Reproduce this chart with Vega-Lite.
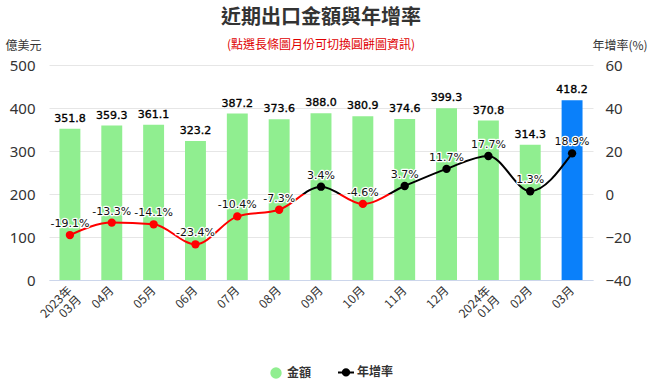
{
  "$schema": "https://vega.github.io/schema/vega-lite/v6.json",
  "autosize": "none",
  "width": 544,
  "height": 215,
  "padding": {"left": 49, "top": 65, "right": 59, "bottom": 105},
  "background": "white",
  "title": {
    "text": "近期出口金額與年增率",
    "subtitle": "(點選長條圖月份可切換圓餅圖資訊)",
    "font": "Noto Sans CJK TC",
    "fontSize": 20,
    "fontWeight": "bold",
    "color": "#333333",
    "subtitleFont": "Noto Sans CJK TC",
    "subtitleFontSize": 12,
    "subtitleColor": "#e00000",
    "subtitlePadding": 12,
    "anchor": "middle",
    "offset": -12
  },
  "data": {
    "values": [
      {"label": "2023年 03月", "amount": 351.8, "yoy": -19.1},
      {"label": "04月", "amount": 359.3, "yoy": -13.3},
      {"label": "05月", "amount": 361.1, "yoy": -14.1},
      {"label": "06月", "amount": 323.2, "yoy": -23.4},
      {"label": "07月", "amount": 387.2, "yoy": -10.4},
      {"label": "08月", "amount": 373.6, "yoy": -7.3},
      {"label": "09月", "amount": 388.0, "yoy": 3.4},
      {"label": "10月", "amount": 380.9, "yoy": -4.6},
      {"label": "11月", "amount": 374.6, "yoy": 3.7},
      {"label": "12月", "amount": 399.3, "yoy": 11.7},
      {"label": "2024年 01月", "amount": 370.8, "yoy": 17.7},
      {"label": "02月", "amount": 314.3, "yoy": 1.3},
      {"label": "03月", "amount": 418.2, "yoy": 18.9}
    ]
  },
  "transform": [{"calculate": "datum.yoy + '%'", "as": "yoyLabel"}],
  "encoding": {
    "x": {
      "field": "label",
      "type": "nominal",
      "sort": null,
      "scale": {"paddingInner": 0.5, "paddingOuter": 0.25},
      "axis": {
        "title": null,
        "labelAngle": -45,
        "labelAlign": "right",
        "labelBaseline": "middle",
        "labelFont": "Noto Sans CJK TC",
        "labelFontSize": 12,
        "labelColor": "#333333",
        "labelPadding": 8,
        "labelLineHeight": 13,
        "labelExpr": "split(datum.label, ' ')",
        "ticks": false,
        "grid": false,
        "domainColor": "#ccd6eb",
        "domainWidth": 1
      }
    }
  },
  "layer": [
    {
      "encoding": {
        "y": {
          "field": "amount",
          "type": "quantitative",
          "scale": {"domain": [0, 500], "nice": false},
          "axis": {
            "orient": "left",
            "values": [0, 100, 200, 300, 400, 500],
            "domain": false,
            "ticks": false,
            "grid": true,
            "gridColor": "#e6e6e6",
            "labelFont": "Noto Sans",
            "labelFontSize": 15,
            "labelColor": "#333333",
            "labelPadding": 14,
            "title": "億美元",
            "titleAngle": 0,
            "titleX": -44,
            "titleY": -20,
            "titleAlign": "left",
            "titleBaseline": "middle",
            "titleFont": "Noto Sans CJK TC",
            "titleFontSize": 12,
            "titleFontWeight": "normal",
            "titleColor": "#333333"
          }
        }
      },
      "layer": [
        {
          "mark": {"type": "bar"},
          "encoding": {
            "color": {
              "condition": {"test": "datum.label === '03月'", "value": "#0a80fa"},
              "datum": "金額",
              "type": "nominal",
              "scale": {"domain": ["金額", "年增率"], "range": ["#90ee90", "#000000"]},
              "legend": {
                "orient": "none",
                "legendX": 221,
                "legendY": 301,
                "direction": "horizontal",
                "title": null,
                "labelFont": "Noto Sans CJK TC",
                "labelFontSize": 12,
                "labelFontWeight": "bold",
                "labelColor": "#333333",
                "symbolSize": 256,
                "labelOffset": 5,
                "columnPadding": 22,
                "encode": {
                  "symbols": {
                    "update": {
                      "shape": {"signal": "datum.value === '年增率' ? 'M-1,0L1,0M-0.4,0A0.4,0.4,0,1,1,0.4,0A0.4,0.4,0,1,1,-0.4,0Z' : 'circle'"},
                      "size": {"signal": "datum.value === '年增率' ? 256 : 130"},
                      "fill": {"signal": "datum.value === '年增率' ? '#000000' : '#90ee90'"},
                      "stroke": {"signal": "datum.value === '年增率' ? '#000000' : '#90ee90'"},
                      "strokeWidth": {"signal": "datum.value === '年增率' ? 2 : 0"},
                      "opacity": {"value": 1}
                    }
                  }
                }
              }
            }
          }
        },
        {
          "mark": {"type": "text", "baseline": "alphabetic", "dy": -7, "font": "DejaVu Sans", "fontSize": 11, "color": "#000000", "stroke": "#000000", "strokeWidth": 0.35},
          "encoding": {"text": {"field": "amount", "type": "quantitative", "format": ".1f"}}
        }
      ]
    },
    {
      "encoding": {
        "y": {
          "field": "yoy",
          "type": "quantitative",
          "scale": {"domain": [-40, 60], "nice": false},
          "axis": {
            "orient": "right",
            "values": [-40, -20, 0, 20, 40, 60],
            "domain": false,
            "ticks": false,
            "grid": false,
            "labelFont": "Noto Sans",
            "labelFontSize": 15,
            "labelColor": "#333333",
            "labelPadding": 12,
            "title": "年增率(%)",
            "titleAngle": 0,
            "titleX": -1,
            "titleY": -20,
            "titleAlign": "left",
            "titleBaseline": "middle",
            "titleFont": "Noto Sans CJK TC",
            "titleFontSize": 12,
            "titleFontWeight": "normal",
            "titleColor": "#333333"
          }
        }
      },
      "layer": [
        {
          "mark": {
            "type": "line",
            "interpolate": "monotone",
            "strokeWidth": 2,
            "stroke": {
              "gradient": "linear",
              "x1": 0, "y1": 0, "x2": 0, "y2": 1,
              "stops": [
                {"offset": 0, "color": "#000000"},
                {"offset": 0.4468, "color": "#000000"},
                {"offset": 0.4468, "color": "#ff0000"},
                {"offset": 1, "color": "#ff0000"}
              ]
            }
          }
        },
        {
          "mark": {"type": "point", "filled": true, "size": 70, "opacity": 1},
          "encoding": {
            "color": {"condition": {"test": "datum.yoy < 0", "value": "#ff0000"}, "value": "#000000"}
          }
        },
        {
          "mark": {"type": "text", "baseline": "alphabetic", "dy": -8, "font": "DejaVu Sans", "fontSize": 11, "stroke": "white", "strokeWidth": 2.5, "strokeJoin": "round", "fill": "white"},
          "encoding": {"text": {"field": "yoyLabel"}}
        },
        {
          "mark": {"type": "text", "baseline": "alphabetic", "dy": -8, "font": "DejaVu Sans", "fontSize": 11, "color": "#111111"},
          "encoding": {"text": {"field": "yoyLabel"}}
        }
      ]
    }
  ],
  "resolve": {"scale": {"y": "independent", "color": "independent"}},
  "config": {"view": {"stroke": null}}
}
